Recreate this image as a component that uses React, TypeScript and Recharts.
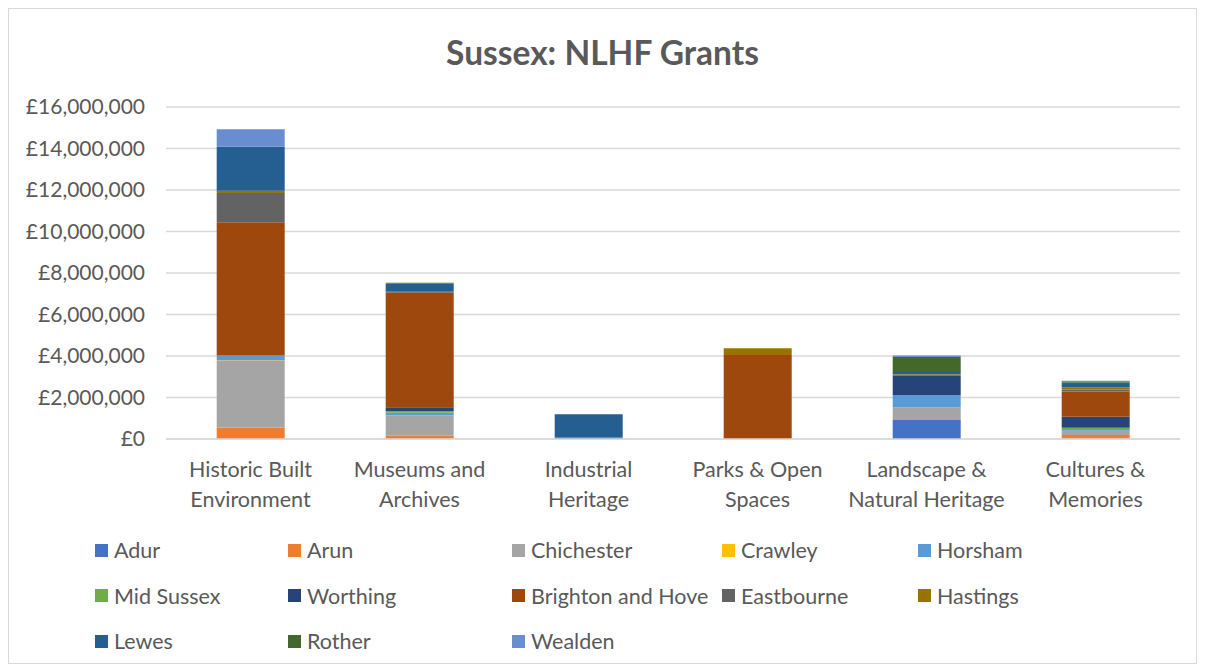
import { BarChart, Bar, XAxis, YAxis, CartesianGrid } from "recharts";

const categories = [
  "Historic Built Environment",
  "Museums and Archives",
  "Industrial Heritage",
  "Parks & Open Spaces",
  "Landscape & Natural Heritage",
  "Cultures & Memories",
];

const tickLines = [
  ["Historic Built", "Environment"],
  ["Museums and", "Archives"],
  ["Industrial", "Heritage"],
  ["Parks & Open", "Spaces"],
  ["Landscape &", "Natural Heritage"],
  ["Cultures &", "Memories"],
];

const yTicks = [0, 2000000, 4000000, 6000000, 8000000, 10000000, 12000000, 14000000, 16000000];

const adur = [0, 0, 70000, 0, 920000, 20000];
const arun = [560000, 160000, 0, 0, 0, 170000];
const chichester = [3240000, 980000, 0, 0, 600000, 210000];
const crawley = [10000, 0, 0, 0, 0, 0];
const horsham = [210000, 130000, 0, 0, 600000, 80000];
const midSussex = [0, 80000, 0, 0, 0, 60000];
const worthing = [0, 180000, 0, 0, 930000, 530000];
const brighton = [6430000, 5520000, 0, 4050000, 50000, 1220000];
const eastbourne = [1410000, 30000, 0, 0, 0, 100000];
const hastings = [100000, 20000, 0, 320000, 20000, 100000];
const lewes = [2130000, 400000, 1120000, 0, 110000, 160000];
const rother = [0, 30000, 0, 0, 720000, 80000];
const wealden = [840000, 0, 0, 0, 80000, 80000];

const series = [
  { key: "Adur", values: adur, color: "#4472C4" },
  { key: "Arun", values: arun, color: "#ED7D31" },
  { key: "Chichester", values: chichester, color: "#A5A5A5" },
  { key: "Crawley", values: crawley, color: "#FFC000" },
  { key: "Horsham", values: horsham, color: "#5B9BD5" },
  { key: "Mid Sussex", values: midSussex, color: "#70AD47" },
  { key: "Worthing", values: worthing, color: "#264478" },
  { key: "Brighton and Hove", values: brighton, color: "#9E480E" },
  { key: "Eastbourne", values: eastbourne, color: "#636363" },
  { key: "Hastings", values: hastings, color: "#997300" },
  { key: "Lewes", values: lewes, color: "#255E91" },
  { key: "Rother", values: rother, color: "#43682B" },
  { key: "Wealden", values: wealden, color: "#698ED0" },
];

const data = categories.map((name, i) => {
  const row: Record<string, string | number> = { name, idx: i };
  series.forEach((s) => {
    row[s.key] = s.values[i];
  });
  return row;
});

const FONT = "Lato, 'Open Sans', sans-serif";
const GREY = "#595959";

const fmt = (v: number) => "£" + v.toLocaleString("en-GB");

function CategoryTick(props: any) {
  const { x, y, payload } = props;
  const lines = tickLines[payload.index] || [payload.value];
  return (
    <text x={x} y={y} textAnchor="middle" fill={GREY} fontSize={21.5} fontFamily={FONT}>
      {lines.map((l, i) => (
        <tspan key={i} x={x} dy={i === 0 ? 30 : 30}>
          {l}
        </tspan>
      ))}
    </text>
  );
}

// legend column left edges, Excel-ish flow layout
const legendCols = [86, 279, 503, 713, 909];

export default function App() {
  return (
    <div
      style={{
        position: "relative",
        width: 1187,
        height: 654,
        border: "1px solid #d9d9d9",
        background: "#fff",
        fontFamily: FONT,
      }}
    >
      <div
        style={{
          position: "absolute",
          top: 23,
          left: 0,
          width: "100%",
          textAlign: "center",
          fontSize: 33.5,
          fontWeight: 700,
          color: GREY,
        }}
      >
        Sussex: NLHF Grants
      </div>
      <BarChart
        width={1187}
        height={654}
        data={data}
        margin={{ top: 98, right: 16, bottom: 154, left: 0 }}
        barCategoryGap="30%"
      >
        <CartesianGrid vertical={false} stroke="#d9d9d9" strokeWidth={1.5} />
        <XAxis
          dataKey="name"
          interval={0}
          tickLine={false}
          axisLine={{ stroke: "#d9d9d9", strokeWidth: 1.5 }}
          height={70}
          tick={<CategoryTick />}
        />
        <YAxis
          width={157}
          ticks={yTicks}
          domain={[0, 16000000]}
          tickFormatter={fmt}
          tickLine={false}
          axisLine={false}
          tickSize={0}
          tickMargin={21}
          tick={{ fill: GREY, fontSize: 21, fontFamily: FONT }}
        />
        {series.map((s) => (
          <Bar
            key={s.key}
            dataKey={s.key}
            stackId="a"
            fill={s.color}
            isAnimationActive={false}
          />
        ))}
      </BarChart>
      {series.map((s, i) => {
        const col = i % 5;
        const row = Math.floor(i / 5);
        return (
          <div
            key={s.key}
            style={{
              position: "absolute",
              left: legendCols[col],
              top: 528 + row * 45.5,
              display: "flex",
              alignItems: "center",
              fontSize: 21.5,
              color: GREY,
              whiteSpace: "nowrap",
            }}
          >
            <span
              style={{
                display: "inline-block",
                width: 13,
                height: 13,
                background: s.color,
                marginRight: 6,
              }}
            />
            {s.key}
          </div>
        );
      })}
    </div>
  );
}
